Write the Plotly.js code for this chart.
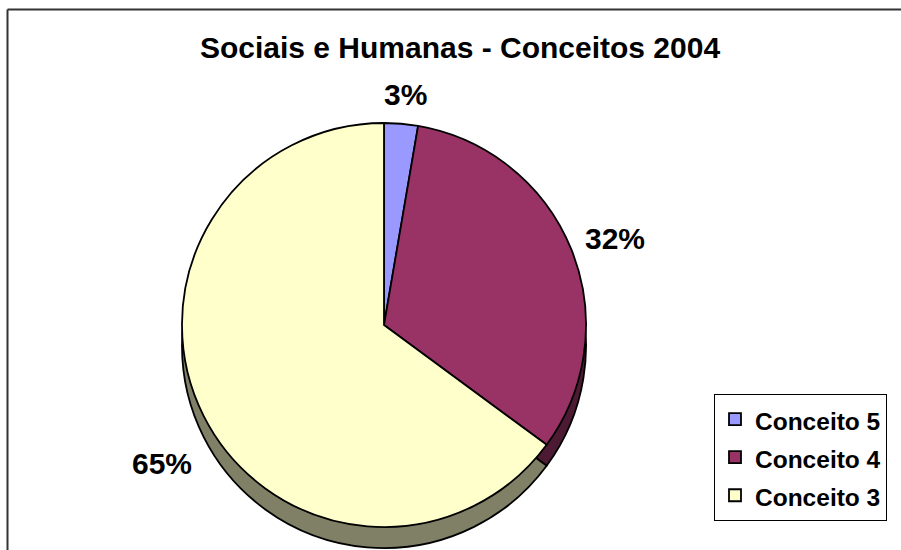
<!DOCTYPE html>
<html>
<head>
<meta charset="utf-8">
<script src="https://cdn.plot.ly/plotly-3.0.1.min.js"></script>
<style>
  html, body { margin: 0; padding: 0; background: #ffffff; }
  #chart { width: 901px; height: 550px; }
</style>
</head>
<body>
<div id="chart"></div>
<script>
// ---- Data ----
const categories = ["Conceito 5", "Conceito 4", "Conceito 3"];
const shares = [2.7, 32.4, 64.9];
const topColors = ["#9999FF", "#993366", "#FFFFCC"];
const sideColors = ["#4D4D80", "#4D1A33", "#808066"];
const chartTitle = "Sociais e Humanas - Conceitos 2004";

// ---- Geometry (pixels) ----
const W = 901, H = 550;
const cx = 384, cy = 325, r = 202, depth = 21;
function dom(cxp, cyp) {
  return {
    x: [(cxp - r) / W, (cxp + r) / W],
    y: [1 - (cyp + r) / H, 1 - (cyp - r) / H]
  };
}
const FONT = '"Liberation Sans", Arial, sans-serif';

const legendLabels = categories.map(c => '<span style="font-size:24.5px">' + c + '</span>');

const shadowPie = {
  type: 'pie',
  labels: legendLabels,
  values: shares,
  sort: false,
  direction: 'clockwise',
  rotation: 0,
  domain: dom(cx, cy + depth),
  marker: { colors: sideColors, line: { color: '#000000', width: 1.8 } },
  textinfo: 'none',
  hoverinfo: 'skip',
  showlegend: false
};

const facePie = {
  type: 'pie',
  labels: legendLabels,
  values: shares,
  sort: false,
  direction: 'clockwise',
  rotation: 0,
  domain: dom(cx, cy),
  marker: { colors: topColors, line: { color: '#000000', width: 1.8 } },
  textinfo: 'none',
  hoverinfo: 'skip',
  showlegend: true
};

// Percentage labels placed outside each slice at its mid-angle (derived from the data)
const total = shares.reduce((a, b) => a + b, 0);
const labelRx = 249, labelRy = 231;
let cum = 0;
const pctAnnotations = shares.map(v => {
  const mid = (cum + v / 2) / total * 2 * Math.PI;
  cum += v;
  const s = Math.sin(mid), c = Math.cos(mid);
  const px = cx + labelRx * s;
  const py = cy - labelRy * c + (c < 0 ? -c * depth * 3.6 : 0);
  return {
    xref: 'paper', yref: 'paper',
    x: px / W, y: 1 - py / H,
    xanchor: 'center', yanchor: 'middle',
    text: '<b>' + Math.round(v / total * 100) + '%</b>',
    showarrow: false,
    font: { family: FONT, size: 30, color: '#000000' }
  };
});

const layout = {
  width: W,
  height: H,
  margin: { l: 0, r: 0, t: 0, b: 0 },
  paper_bgcolor: '#ffffff',
  plot_bgcolor: '#ffffff',
  title: {
    text: '<b>' + chartTitle + '</b>',
    font: { family: FONT, size: 30, color: '#000000' },
    x: 460 / W, xanchor: 'center', xref: 'paper',
    y: 1 - 47 / H, yanchor: 'middle', yref: 'paper'
  },
  legend: {
    x: 714 / W, xanchor: 'left',
    y: 1 - 394 / H, yanchor: 'top',
    bgcolor: '#ffffff',
    bordercolor: '#000000',
    borderwidth: 1,
    font: { family: FONT, size: 27, color: '#000000', weight: 'bold' },
    traceorder: 'normal'
  },
  annotations: pctAnnotations,
  shapes: [
    { type: 'line', xref: 'paper', yref: 'paper',
      x0: 7.5 / W, x1: 1.01, y0: 1 - 9.5 / H, y1: 1 - 9.5 / H,
      line: { color: '#333333', width: 2 } },
    { type: 'line', xref: 'paper', yref: 'paper',
      x0: 7.5 / W, x1: 7.5 / W, y0: 1 - 9.5 / H, y1: -0.01,
      line: { color: '#333333', width: 2 } }
  ]
};

Plotly.newPlot('chart', [shadowPie, facePie], layout, { staticPlot: true, displayModeBar: false });
</script>
</body>
</html>
